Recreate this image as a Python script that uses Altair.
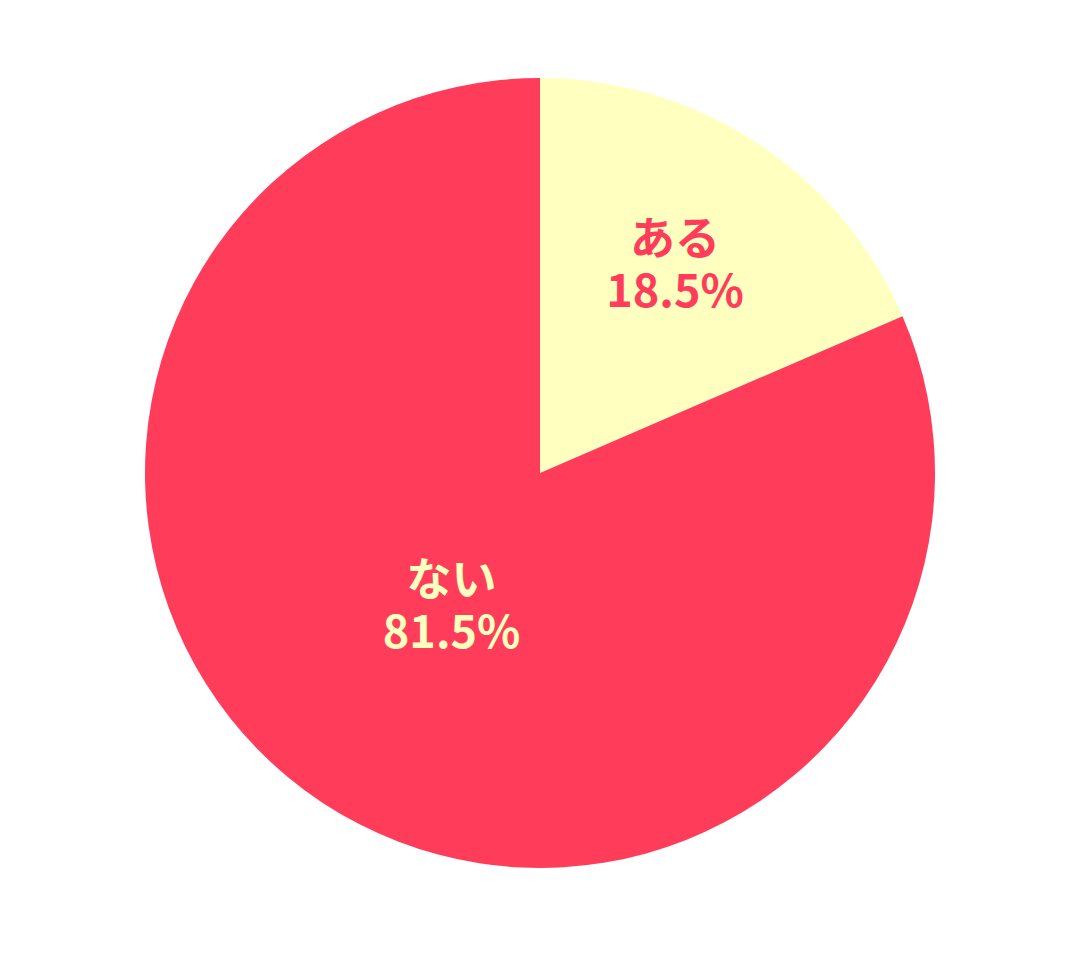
import altair as alt
import pandas as pd

labels = ["ある", "ない"]
values = [18.5, 81.5]
colors = ["#FFFFC0", "#FF3D5A"]
text_colors = ["#FF3D5A", "#FFFFC0"]
label_radius = [246, 161]

df = pd.DataFrame({
    "label": labels,
    "value": values,
    "order": [0, 1],
    "text": [[l, f"{v}%"] for l, v in zip(labels, values)],
    "r": label_radius,
    "tc": text_colors,
})

arcs = alt.Chart(df).mark_arc(outerRadius=395, stroke=None).encode(
    theta=alt.Theta("value:Q", stack=True),
    order=alt.Order("order:Q"),
    color=alt.Color("label:N", scale=alt.Scale(domain=labels, range=colors), legend=None),
)

text = alt.Chart(df).transform_joinaggregate(
    total="sum(value)"
).transform_window(
    cum="sum(value)", sort=[alt.SortField("order")]
).transform_calculate(
    mid="(datum.cum - datum.value / 2) / datum.total * 2 * PI"
).mark_text(
    font="Noto Sans CJK JP", fontSize=45, fontWeight="bold", lineHeight=52,
    align="center", baseline="middle", dy=-26,
).encode(
    theta=alt.Theta("mid:Q", scale=None),
    radius=alt.Radius("r:Q", scale=None),
    text="text",
    color=alt.Color("tc:N", scale=None),
)

chart = (arcs + text).properties(
    width=1064, height=930, padding=0, autosize=alt.AutoSizeParams(type="none")
).configure_view(stroke=None).configure(background="white")

chart.save("out.html", embed_options={"renderer": "svg", "actions": False})
